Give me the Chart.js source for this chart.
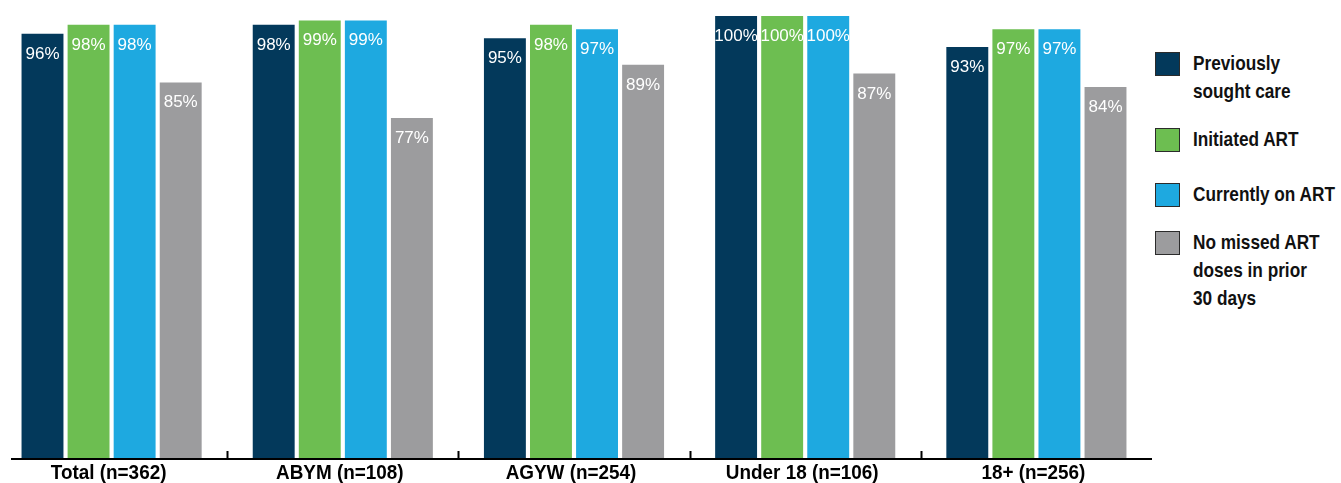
<!DOCTYPE html>
<html>
<head>
<meta charset="utf-8">
<script src="https://cdn.jsdelivr.net/npm/chart.js@4.4.1/dist/chart.umd.min.js"></script>
<style>
  html, body { margin: 0; padding: 0; background: #fff; }
  body { width: 1341px; height: 483px; position: relative; overflow: hidden; }
  #wrap { position: absolute; left: -4px; top: 0; width: 1156px; height: 483px; }
  #legend { position: absolute; left: 1155px; top: 0; width: 190px;
    font-family: "Liberation Sans", Arial, sans-serif;
    font-weight: bold; font-size: 21px; color: #111; }
  .item { position: absolute; left: 0; }
  .swatch { position: absolute; left: 0; top: 0; width: 23px; height: 22px; border: 1.5px solid #2b2b2b; }
  .txt { position: absolute; left: 38px; top: -3px; line-height: 28px; white-space: nowrap;
    transform: scaleX(0.82); transform-origin: 0 0; }
</style>
</head>
<body>
<div id="wrap"><canvas id="barChart"></canvas></div>
<div id="legend"></div>
<script>
  // Chart data
  const categories = ['Total (n=362)', 'ABYM (n=108)', 'AGYW (n=254)', 'Under 18 (n=106)', '18+ (n=256)'];
  const seriesNames = [
    ['Previously', 'sought care'],
    ['Initiated ART'],
    ['Currently on ART'],
    ['No missed ART', 'doses in prior', '30 days']
  ];
  const soughtCare = [96, 98, 95, 100, 93];
  const initiatedArt = [98, 99, 98, 100, 97];
  const currentlyOnArt = [98, 99, 97, 100, 97];
  const noMissedDoses = [85, 77, 89, 87, 84];
  const seriesColors = ['#03395b', '#6dbe51', '#1ea9e0', '#9c9c9e'];

  const allSeries = [soughtCare, initiatedArt, currentlyOnArt, noMissedDoses];

  // white value labels inside the top of each bar
  const valueLabels = {
    id: 'valueLabels',
    afterDatasetsDraw(chart) {
      const ctx = chart.ctx;
      ctx.save();
      ctx.fillStyle = '#ffffff';
      ctx.font = '17px "Liberation Sans", Arial, sans-serif';
      ctx.textAlign = 'center';
      ctx.textBaseline = 'alphabetic';
      chart.data.datasets.forEach((ds, i) => {
        chart.getDatasetMeta(i).data.forEach((bar, j) => {
          ctx.fillText(ds.data[j] + '%', bar.x, bar.y + 25);
        });
      });
      ctx.restore();
    }
  };

  // baseline, small upward ticks between the groups, and the category names
  const axisLine = {
    id: 'axisLine',
    afterDraw(chart) {
      const ctx = chart.ctx;
      const x = chart.scales.x;
      const y0 = chart.chartArea.bottom;
      ctx.save();
      ctx.strokeStyle = '#000';
      ctx.lineWidth = 2;
      ctx.beginPath();
      ctx.moveTo(chart.chartArea.left + 15, y0);
      ctx.lineTo(chart.chartArea.right, y0);
      for (let i = 1; i < categories.length; i++) {
        const bx = Math.round((x.getPixelForValue(i - 1) + x.getPixelForValue(i)) / 2) + 0.5;
        ctx.moveTo(bx, y0);
        ctx.lineTo(bx, y0 - 8);
      }
      ctx.stroke();

      // condensed look for the category labels
      ctx.fillStyle = '#000';
      ctx.font = 'bold 21px "Liberation Sans", Arial, sans-serif';
      ctx.textAlign = 'center';
      ctx.textBaseline = 'alphabetic';
      categories.forEach((c, i) => {
        const cx = x.getPixelForValue(i) - 3;
        ctx.save();
        ctx.translate(cx, y0 + 20);
        ctx.scale(0.9, 1);
        ctx.fillText(c, 0, 0);
        ctx.restore();
      });
      ctx.restore();
    }
  };

  const ctx = document.getElementById('barChart').getContext('2d');
  const barChart = new Chart(ctx, {
    type: 'bar',
    data: {
      labels: categories,
      datasets: allSeries.map((vals, i) => ({
        label: seriesNames[i].join(' '),
        data: vals,
        backgroundColor: seriesColors[i],
        borderWidth: 0,
        categoryPercentage: 0.797,
        barPercentage: 0.91,
      })),
    },
    options: {
      responsive: true,
      maintainAspectRatio: false,
      animation: false,
      layout: { padding: { top: 16, left: 0, right: 0, bottom: 24 } },
      plugins: {
        legend: { display: false },
        tooltip: { enabled: false },
        title: { display: false },
      },
      scales: {
        x: {
          grid: { display: false, drawTicks: false },
          border: { display: false },
          ticks: { display: false },
        },
        y: {
          display: false,
          min: 0,
          max: 100,
        },
      },
    },
    plugins: [valueLabels, axisLine],
  });

  // legend built from the series names and colours
  const legendTops = [52, 128, 183, 231];
  const legend = document.getElementById('legend');
  seriesNames.forEach((lines, i) => {
    const item = document.createElement('div');
    item.className = 'item';
    item.style.top = legendTops[i] + 'px';
    item.innerHTML = '<div class="swatch" style="background:' + seriesColors[i] + '"></div>' +
      '<div class="txt">' + lines.join('<br>') + '</div>';
    legend.appendChild(item);
  });
</script>
</body>
</html>
